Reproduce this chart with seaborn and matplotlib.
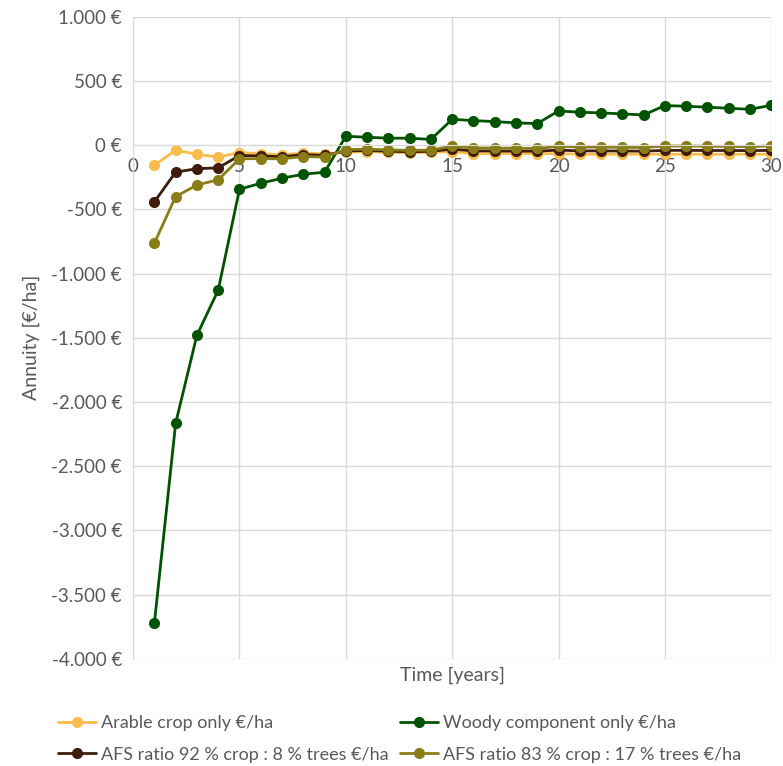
import numpy as np
import pandas as pd
import seaborn as sns
import matplotlib.pyplot as plt
from matplotlib.ticker import FuncFormatter, MultipleLocator

years = list(range(1, 31))

arable = [-156, -39, -70, -93, -57, -65, -75, -60, -68, -55,
          -50, -55, -60, -55, -50, -65, -65, -65, -65, -65,
          -70, -70, -70, -70, -70, -70, -70, -70, -70, -70]
woody = [-3723, -2165, -1480, -1129, -343, -296, -257, -226, -210, 70,
         62, 55, 55, 45, 202, 192, 184, 174, 169, 267,
         257, 252, 244, 236, 309, 304, 296, 288, 280, 311]
afs_92 = [-441, -209, -183, -176, -80, -83, -90, -73, -79, -45,
          -41, -46, -51, -47, -30, -44, -45, -46, -46, -38,
          -44, -44, -45, -46, -40, -40, -41, -41, -42, -40]
afs_83 = [-762, -400, -310, -269, -106, -104, -106, -88, -92, -34,
          -31, -36, -40, -38, -7, -21, -23, -24, -25, -9,
          -14, -15, -17, -18, -6, -6, -8, -9, -11, -5]

names = ['Arable crop only €/ha', 'Woody component only €/ha',
         'AFS ratio 92 % crop : 8 % trees €/ha', 'AFS ratio 83 % crop : 17 % trees €/ha']
colors = ['#F8BC4C', '#005300', '#3F1B0B', '#8A7D18']

df = pd.DataFrame({'year': years * 4,
                   'value': arable + woody + afs_92 + afs_83,
                   'series': sum([[n] * 30 for n in names], [])})

sns.set_style('white')
plt.rcParams['font.family'] = ['Lato', 'DejaVu Sans']
grey = '#595959'

fig = plt.figure(figsize=(7.83, 7.66), dpi=100)
ax = fig.add_axes([0.170, 0.140, 0.815, 0.838])

sns.lineplot(data=df, x='year', y='value', hue='series', palette=dict(zip(names, colors)),
             hue_order=names, marker='o', markersize=8, markeredgewidth=0,
             linewidth=2, ax=ax, legend=False)

ax.set_xlim(0, 30)
ax.set_ylim(-4000, 1000)
ax.xaxis.set_major_locator(MultipleLocator(5))
ax.yaxis.set_major_locator(MultipleLocator(500))
ax.yaxis.set_major_formatter(FuncFormatter(lambda v, p: f'{int(v):,} €'.replace(',', '.')))
ax.grid(True, color='#D9D9D9', linewidth=1)
ax.set_axisbelow(True)

for s in ['top', 'right']:
    ax.spines[s].set_visible(False)
ax.spines['bottom'].set_position(('data', 0))
ax.spines['bottom'].set_color('#D9D9D9')
ax.spines['left'].set_color('#D9D9D9')
ax.tick_params(axis='both', length=0, labelsize=13.5, labelcolor=grey)
ax.tick_params(axis='x', pad=9)
ax.tick_params(axis='y', pad=8)

ax.set_xlabel('')
ax.set_ylabel('Annuity [€/ha]', fontsize=14, color=grey, labelpad=8)
fig.text(0.578, 0.118, 'Time [years]', ha='center', va='center', fontsize=14, color=grey)

order = [0, 2, 1, 3]
handles = [plt.Line2D([], [], color=colors[i], marker='o', markersize=7, linewidth=2)
           for i in order]
fig.legend(handles, [names[i] for i in order], loc='upper left', ncol=2,
           bbox_to_anchor=(0.074, 0.066), frameon=False, fontsize=13, labelcolor=grey,
           handlelength=2.1, handletextpad=0.3, columnspacing=0.6, labelspacing=0.85,
           borderaxespad=0, borderpad=0)

fig.savefig('out.png', dpi=100)
